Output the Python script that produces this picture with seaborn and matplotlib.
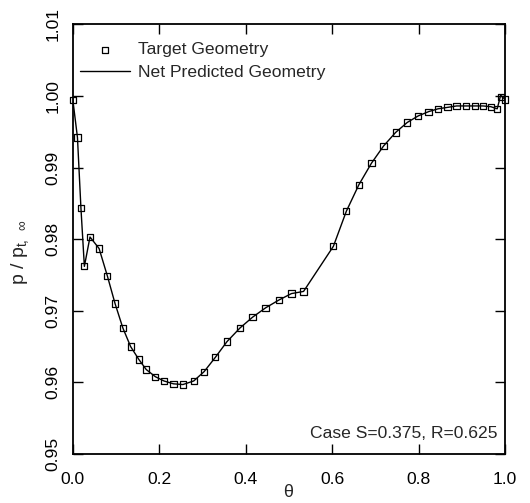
import numpy as np
import pandas as pd
import matplotlib.pyplot as plt
import seaborn as sns

sns.set_theme(style="ticks")
plt.rcParams["font.family"] = ["Liberation Sans", "DejaVu Sans"]
plt.rcParams["mathtext.fontset"] = "custom"
plt.rcParams["mathtext.rm"] = "Liberation Sans"
plt.rcParams["mathtext.it"] = "Liberation Sans"
plt.rcParams["mathtext.sf"] = "Liberation Sans"

## DATA
theta = [0.000, 0.011, 0.019, 0.027, 0.040, 0.061, 0.080, 0.098, 0.116, 0.134,
         0.153, 0.170, 0.191, 0.211, 0.233, 0.255, 0.280, 0.304, 0.330, 0.357,
         0.387, 0.416, 0.446, 0.477, 0.506, 0.534, 0.603, 0.633, 0.662, 0.691,
         0.719, 0.747, 0.774, 0.799, 0.823, 0.845, 0.867, 0.888, 0.909, 0.930,
         0.949, 0.967, 0.982, 0.990, 1.000]
p_target = [0.9994, 0.9942, 0.9844, 0.9762, 0.9803, 0.9787, 0.9749, 0.9710, 0.9676, 0.9650,
            0.9632, 0.9618, 0.9608, 0.9602, 0.9598, 0.9597, 0.9602, 0.9615, 0.9635, 0.9657,
            0.9676, 0.9691, 0.9704, 0.9715, 0.9724, 0.9727, 0.9790, 0.9839, 0.9876, 0.9906,
            0.9930, 0.9949, 0.9963, 0.9972, 0.9978, 0.9982, 0.9984, 0.9986, 0.9986, 0.9986,
            0.9986, 0.9985, 0.9982, 0.9999, 0.9995]
p_net = [0.9996, 0.9942, 0.9844, 0.9762, 0.9803, 0.9787, 0.9749, 0.9710, 0.9676, 0.9650,
         0.9632, 0.9618, 0.9608, 0.9602, 0.9598, 0.9597, 0.9602, 0.9615, 0.9635, 0.9657,
         0.9676, 0.9691, 0.9704, 0.9715, 0.9724, 0.9727, 0.9790, 0.9839, 0.9876, 0.9906,
         0.9930, 0.9949, 0.9963, 0.9972, 0.9978, 0.9982, 0.9984, 0.9986, 0.9986, 0.9986,
         0.9986, 0.9985, 0.9982, 1.0001, 0.9995]

df_t = pd.DataFrame({"theta": theta, "p": p_target})
df_n = pd.DataFrame({"theta": theta, "p": p_net})

FS = 12.6

fig, ax = plt.subplots(figsize=(5.30, 5.03), dpi=100)
fig.subplots_adjust(left=72.7 / 530, right=505 / 530, top=1 - 24.3 / 503, bottom=1 - 454 / 503)

sns.lineplot(data=df_n, x="theta", y="p", ax=ax, color="black", lw=1.0,
             sort=False, label="Net Predicted Geometry", zorder=2)
sns.scatterplot(data=df_t, x="theta", y="p", ax=ax, marker="s", s=20,
                facecolor="none", edgecolor="black", linewidth=0.9,
                label="Target Geometry", zorder=3, clip_on=False)

ax.set_xlim(0, 1)
ax.set_ylim(0.95, 1.01)
ax.set_xticks([0.0, 0.2, 0.4, 0.6, 0.8, 1.0])
ax.set_xticklabels(["0.0", "0.2", "0.4", "0.6", "0.8", "1.0"])
ax.set_yticks([0.95, 0.96, 0.97, 0.98, 0.99, 1.00, 1.01])
ax.set_yticklabels(["0.95", "0.96", "0.97", "0.98", "0.99", "1.00", "1.01"],
                   rotation=90, va="center")
ax.tick_params(direction="in", length=7, width=1.0, top=True, right=True,
               labelsize=FS, colors="black")
ax.tick_params(axis="x", pad=13)
ax.tick_params(axis="y", pad=9)
for sp in ax.spines.values():
    sp.set_linewidth(1.3)
    sp.set_color("black")

ax.set_xlabel(r"$\theta$", fontsize=13, family="DejaVu Serif", labelpad=-3)
ax.set_ylabel(r"p / p$_{\mathrm{t},\;\;\infty}$", fontsize=14)
ax.yaxis.set_label_coords(-0.097, 0.47)

handles, labels = ax.get_legend_handles_labels()
order = [labels.index("Target Geometry"), labels.index("Net Predicted Geometry")]
ax.legend([handles[i] for i in order], [labels[i] for i in order],
          loc="upper left", bbox_to_anchor=(0.0, 0.975), frameon=False,
          fontsize=FS, handlelength=2.9, borderaxespad=0.0,
          handletextpad=0.45, labelspacing=0.45)

ax.text(0.982, 0.037, "Case S=0.375, R=0.625", transform=ax.transAxes,
        ha="right", va="baseline", fontsize=FS)

fig.savefig("out.png", dpi=100)
